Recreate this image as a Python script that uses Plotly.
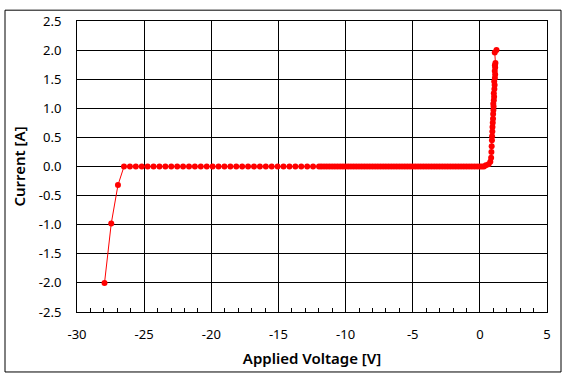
import plotly.graph_objects as go

# Reverse-bias region (steep breakdown)
v_rev = [-27.95, -27.45, -26.95, -26.5]
i_rev = [-2.0, -0.98, -0.32, 0.0]

# Flat leakage region
v_flat = [-26.06, -25.62, -25.18, -24.74, -24.30, -23.86, -23.42, -22.98, -22.54,
          -22.10, -21.66, -21.22, -20.78, -20.34, -19.90, -19.46, -19.02, -18.58,
          -18.14, -17.70, -17.26, -16.82, -16.38, -15.94, -15.50, -15.06, -14.62,
          -14.18, -13.74, -13.30, -12.86, -12.42, -11.98,
          -11.8, -11.6, -11.4, -11.2, -11.0, -10.8, -10.6, -10.4, -10.2, -10.0,
          -9.8, -9.6, -9.4, -9.2, -9.0, -8.8, -8.6, -8.4, -8.2, -8.0,
          -7.8, -7.6, -7.4, -7.2, -7.0, -6.8, -6.6, -6.4, -6.2, -6.0,
          -5.8, -5.6, -5.4, -5.2, -5.0, -4.8, -4.6, -4.4, -4.2, -4.0,
          -3.8, -3.6, -3.4, -3.2, -3.0, -2.8, -2.6, -2.4, -2.2, -2.0,
          -1.8, -1.6, -1.4, -1.2, -1.0, -0.8, -0.6, -0.4, -0.2, 0.0, 0.15, 0.3]
i_flat = [0.0] * len(v_flat)

# Forward-bias region
v_fwd = [0.45, 0.65, 0.78, 0.84, 0.86, 0.88, 0.90, 0.91, 0.93, 0.94, 0.96, 0.98,
         0.99, 1.01, 1.02, 1.00, 1.04, 1.06, 1.04, 1.08, 1.10, 1.07, 1.12, 1.14,
         1.11, 1.14, 1.12, 1.16, 1.11, 1.24]
i_fwd = [0.02, 0.04, 0.08, 0.15, 0.25, 0.35, 0.45, 0.52, 0.60, 0.68, 0.75, 0.82,
         0.90, 0.97, 1.03, 1.08, 1.14, 1.20, 1.26, 1.33, 1.40, 1.46, 1.52, 1.58,
         1.64, 1.70, 1.74, 1.78, 1.96, 2.0]

voltage = v_rev + v_flat + v_fwd
current = i_rev + i_flat + i_fwd

x_ticks = [-30, -25, -20, -15, -10, -5, 0, 5]
y_ticks = [-2.5, -2.0, -1.5, -1.0, -0.5, 0.0, 0.5, 1.0, 1.5, 2.0, 2.5]
y_labels = [f"{v:.1f}" for v in y_ticks]

FONT = "Noto Sans"

fig = go.Figure()
fig.add_trace(go.Scatter(
    x=voltage, y=current, mode="lines+markers",
    line=dict(color="#FF0000", width=1),
    marker=dict(color="#FF0000", size=6, symbol="circle"),
    showlegend=False,
))

fig.update_layout(
    width=567, height=379,
    margin=dict(l=77, r=20, t=16, b=67),
    paper_bgcolor="white", plot_bgcolor="white",
    font=dict(family=FONT, size=13, color="black"),
    xaxis=dict(
        range=[-30, 5], tickvals=x_ticks, ticktext=[str(v) for v in x_ticks],
        showgrid=True, gridcolor="black", gridwidth=1,
        showline=True, linecolor="black", linewidth=1, mirror=True,
        zeroline=False, ticks="inside", ticklen=4, tickcolor="black",
        ticklabelstandoff=10,
        minor=dict(dtick=1, ticks="inside", ticklen=4, tickcolor="black", showgrid=False),
        title=dict(text="Applied Voltage [V]", font=dict(family=FONT, size=15, weight=600), standoff=11),
    ),
    yaxis=dict(
        range=[-2.5, 2.5], tickvals=y_ticks, ticktext=y_labels,
        showgrid=True, gridcolor="black", gridwidth=1,
        showline=True, linecolor="black", linewidth=1, mirror=True,
        zeroline=False, ticks="", ticklabelstandoff=12,
        title=dict(text="Current [A]", font=dict(family=FONT, size=15, weight=600), standoff=9),
    ),
    shapes=[dict(type="rect", xref="paper", yref="paper",
                 x0=(5 - 77) / 470, x1=(561 - 77) / 470,
                 y0=(312 - 373) / 296, y1=(312 - 5) / 296,
                 line=dict(color="black", width=1), fillcolor="rgba(0,0,0,0)", layer="below")],
)

fig.write_html("out.html")
